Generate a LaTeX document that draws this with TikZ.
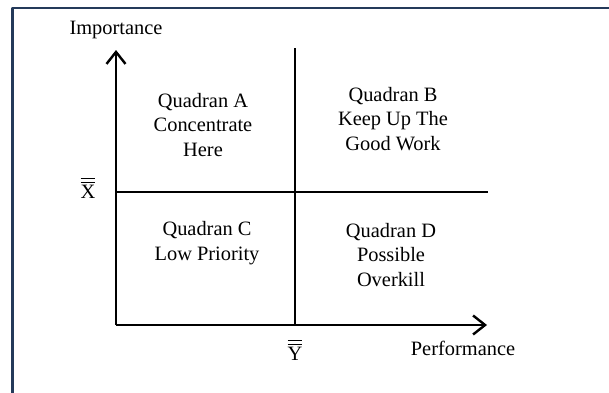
\documentclass[tikz,border=0pt]{standalone}
\usepackage{fontspec}
\setmainfont{Liberation Serif}
\usetikzlibrary{arrows.meta}
\definecolor{framec}{RGB}{36,58,90}
\newcommand{\dbar}[1]{$\overline{\overline{\mbox{#1}}}$}
\begin{document}
\begin{tikzpicture}[x=0.5pt,y=0.5pt,>={Straight Barb[length=6pt,width=9.5pt]},line join=round,
	lbl/.style={font=\fontsize{10.2}{12.25}\selectfont,inner sep=0pt},
	quad/.style={lbl,align=center}]
	\def\W{609} % width
	\def\H{392} % height
	\clip (0,0) rectangle (\W,\H);
	\draw[framec,line width=1.1pt] (12.5,384) rectangle (\W+20,-20);
	\coordinate (O) at (116,67);
	\coordinate (ytip) at (116,342);
	\coordinate (xtip) at (487,67);
	\coordinate (mb) at (295,67);
	\coordinate (mt) at (295,344);
	\coordinate (ml) at (116,200);
	\coordinate (mr) at (488,200);
	\begin{scope}[line width=1.2pt]
	\draw[->] (O)--(ytip);
	\draw[->] (O)--(xtip);
	\draw (mb)--(mt) (ml)--(mr);
	\end{scope}
	\node[lbl] (imp) at (116,362) {Importance};
	\node[lbl] (perf) at (463,44) {Performance};
	\node[lbl] (xm) at (88,204) {\dbar{X}};
	\node[lbl] (ym) at (295,42) {\dbar{Y}};
	\node[quad] (qa) at (203,267) {Quadran A\\Concentrate\\Here};
	\node[quad] (qb) at (393,273) {Quadran B\\Keep Up The\\Good Work};
	\node[quad] (qc) at (207,149) {Quadran C\\Low Priority};
	\node[quad] (qd) at (391,137) {Quadran D\\Possible\\Overkill};
\end{tikzpicture}
\end{document}
